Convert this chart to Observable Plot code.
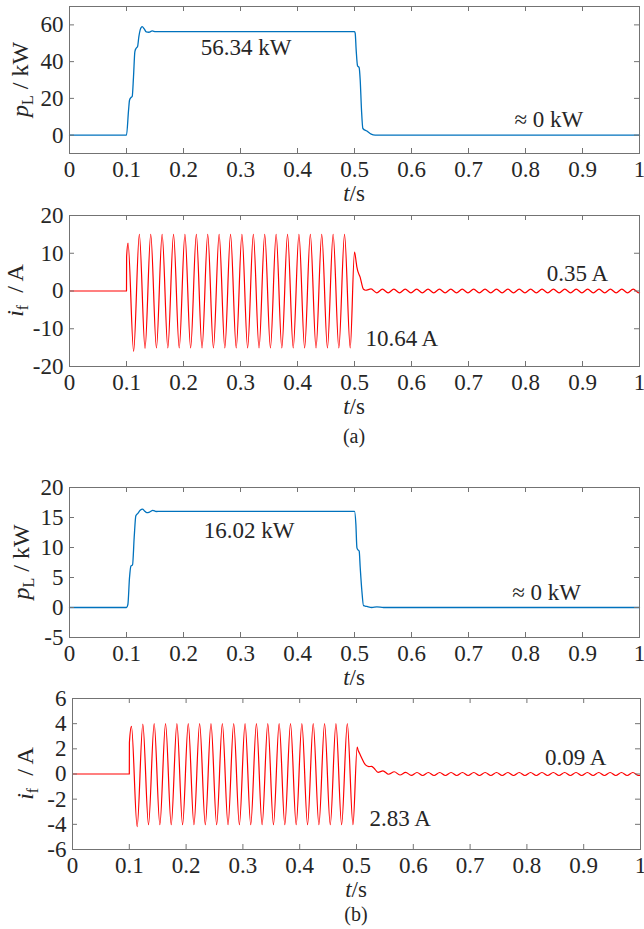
<!DOCTYPE html>
<html><head><meta charset="utf-8">
<script src="https://cdn.jsdelivr.net/npm/d3@7"></script>
<script src="https://cdn.jsdelivr.net/npm/@observablehq/plot@0.6"></script>
<style>
body{margin:0;background:#fff;}
#chart{position:relative;width:644px;height:929px;font-family:"Liberation Serif","Times New Roman",serif;}
#chart svg{position:absolute;left:0;overflow:visible;background:none;}
</style></head><body><div id="chart"></div>
<script>
// ---------- shared tick labels ----------
const xTicks = [0, 0.1, 0.2, 0.3, 0.4, 0.5, 0.6, 0.7, 0.8, 0.9, 1];
const yTicksPA = [0, 20, 40, 60];
const yTicksIA = [-20, -10, 0, 10, 20];
const yTicksPB = [-5, 0, 5, 10, 15, 20];
const yTicksIB = [-6, -4, -2, 0, 2, 4, 6];

// ---------- (a) load power p_L (kW) ----------
const pA_t = [0, 0.1, 0.1036, 0.1053, 0.1077, 0.11, 0.1123, 0.1147, 0.117, 0.1194, 0.1217, 0.124, 0.1275, 0.1311, 0.1346, 0.1392, 0.1451, 0.1509,
  0.5, 0.5012, 0.503, 0.5053, 0.5082, 0.51, 0.5123, 0.5147, 0.5217, 0.5293, 0.5363, 1.0];
const pA_v = [0, 0, 13.6, 19, 20.4, 21, 31.8, 45.5, 47.3, 48.2, 53.6, 57.3, 59.1, 57.8, 56.2, 56, 56.7, 56.34,
  56.34, 55.5, 46, 37.8, 36.7, 30, 13.6, 3.6, 2.2, 0.5, 0, 0];

// ---------- (a) fault current i_f (A) ----------
const iA_t = [0, 0.1, 0.1002,
  0.1027, 0.1125, 0.1225, 0.1325, 0.1425, 0.1525, 0.1625, 0.1725, 0.1825, 0.1925,
  0.2025, 0.2125, 0.2225, 0.2325, 0.2425, 0.2525, 0.2625, 0.2725, 0.2825, 0.2925,
  0.3025, 0.3125, 0.3225, 0.3325, 0.3425, 0.3525, 0.3625, 0.3725, 0.3825, 0.3925,
  0.4025, 0.4125, 0.4225, 0.4325, 0.4425, 0.4525, 0.4625, 0.4725, 0.4825, 0.4925,
  0.5, 0.503, 0.5042, 0.51, 0.5158, 0.5195,
  0.529, 0.539, 0.549, 0.559, 0.569, 0.579, 0.589, 0.599,
  0.609, 0.619, 0.629, 0.639, 0.649, 0.659, 0.669, 0.679, 0.689, 0.699,
  0.709, 0.719, 0.729, 0.739, 0.749, 0.759, 0.769, 0.779, 0.789, 0.799,
  0.809, 0.819, 0.829, 0.839, 0.849, 0.859, 0.869, 0.879, 0.889, 0.899,
  0.909, 0.919, 0.929, 0.939, 0.949, 0.959, 0.969, 0.979, 0.989, 0.999,
  1.0];
const iA_v = [0, 0, 9,
  12.7, -16.0, 15.0, -15.2, 15.0, -15.1, 15.0, -15.1, 15.0, -15.1,
  15.0, -15.1, 15.0, -15.1, 15.0, -15.1, 15.0, -15.1, 15.0, -15.1,
  15.0, -15.1, 15.0, -15.1, 15.0, -15.1, 15.0, -15.1, 15.0, -15.1,
  15.0, -15.1, 15.0, -15.1, 15.0, -15.1, 15.0, -15.1, 15.0, -15.1,
  10.3, 7.6, 6.3, 3.6, 0.45, 0.2,
  0.55, -0.5, 0.5, -0.5, 0.5, -0.5, 0.5, -0.5,
  0.5, -0.5, 0.5, -0.5, 0.5, -0.5, 0.5, -0.5, 0.5, -0.5,
  0.5, -0.5, 0.5, -0.5, 0.5, -0.5, 0.5, -0.5, 0.5, -0.5,
  0.5, -0.5, 0.5, -0.5, 0.5, -0.5, 0.5, -0.5, 0.5, -0.5,
  0.5, -0.5, 0.5, -0.5, 0.5, -0.5, 0.5, -0.5, 0.5, -0.5,
  -0.45];

// ---------- (b) load power p_L (kW) ----------
const pB_t = [0, 0.1, 0.1024, 0.1053, 0.1077, 0.1106, 0.1135, 0.1164, 0.12, 0.124, 0.1281, 0.1316, 0.1357, 0.1404, 0.1462, 0.1521, 0.1591,
  0.5, 0.5024, 0.5042, 0.5053, 0.5082, 0.51, 0.5129, 0.5158, 0.5217, 0.5305, 0.5392, 0.551, 1.0];
const pB_v = [0, 0, 0.5, 5, 6.9, 7.1, 11.7, 15.3, 15.7, 16.2, 16.4, 16.1, 15.8, 15.9, 16.2, 16.0, 16.02,
  16.02, 13.9, 10, 9.7, 9.4, 6.7, 2.8, 0.3, 0.17, 0, 0.1, 0, 0];

// ---------- (b) fault current i_f (A) ----------
const iB_t = [0, 0.1, 0.1002,
  0.1038, 0.1138, 0.1238, 0.1338, 0.1438, 0.1538, 0.1638, 0.1738, 0.1838, 0.1938,
  0.2038, 0.2138, 0.2238, 0.2338, 0.2438, 0.2538, 0.2638, 0.2738, 0.2838, 0.2938,
  0.3038, 0.3138, 0.3238, 0.3338, 0.3438, 0.3538, 0.3638, 0.3738, 0.3838, 0.3938,
  0.4038, 0.4138, 0.4238, 0.4338, 0.4438, 0.4538, 0.4638, 0.4738, 0.4838, 0.4938,
  0.5012, 0.503, 0.5053, 0.51, 0.5158, 0.5217, 0.5264, 0.5305, 0.538,
  0.5465, 0.5565, 0.5665, 0.5765, 0.5865, 0.5965,
  0.6065, 0.6165, 0.6265, 0.6365, 0.6465, 0.6565, 0.6665, 0.6765, 0.6865, 0.6965,
  0.7065, 0.7165, 0.7265, 0.7365, 0.7465, 0.7565, 0.7665, 0.7765, 0.7865, 0.7965,
  0.8065, 0.8165, 0.8265, 0.8365, 0.8465, 0.8565, 0.8665, 0.8765, 0.8865, 0.8965,
  0.9065, 0.9165, 0.9265, 0.9365, 0.9465, 0.9565, 0.9665, 0.9765, 0.9865, 0.9965,
  1.0];
const iB_v = [0, 0, 2.5,
  3.79, -4.19, 3.97, -4.03, 4.0, -4.03, 4.0, -4.03, 4.0, -4.03,
  4.0, -4.03, 4.0, -4.03, 4.0, -4.03, 4.0, -4.03, 4.0, -4.03,
  4.0, -4.03, 4.0, -4.03, 4.0, -4.03, 4.0, -4.03, 4.0, -4.03,
  4.0, -4.03, 4.0, -4.03, 4.0, -4.03, 4.0, -4.03, 4.0, -4.03,
  2.13, 1.87, 1.65, 1.2, 0.72, 0.59, 0.6, 0.48, 0.13,
  0.25, -0.02, 0.18, -0.08, 0.13, -0.11,
  0.12, -0.12, 0.12, -0.12, 0.12, -0.12, 0.12, -0.12, 0.12, -0.12,
  0.12, -0.12, 0.12, -0.12, 0.12, -0.12, 0.12, -0.12, 0.12, -0.12,
  0.12, -0.12, 0.12, -0.12, 0.12, -0.12, 0.12, -0.12, 0.12, -0.12,
  0.12, -0.12, 0.12, -0.12, 0.12, -0.12, 0.12, -0.12, 0.12, -0.12,
  -0.1];

// ---------- annotation texts ----------
const notesPA = [{t: 0.31, v: 47.5, label: "56.34 kW"}, {t: 0.841, v: 8.2, label: "≈ 0 kW"}];
const notesIA = [{t: 0.891, v: 4.6, label: "0.35 A"}, {t: 0.583, v: -12.6, label: "10.64 A"}];
const notesPB = [{t: 0.315, v: 12.8, label: "16.02 kW"}, {t: 0.837, v: 2.5, label: "≈ 0 kW"}];
const notesIB = [{t: 0.886, v: 1.3, label: "0.09 A"}, {t: 0.577, v: -3.58, label: "2.83 A"}];

const BLUE = "#0072BD", RED = "#FF0000", AXIS = "#737373", TEXT = "#262626";
const chart = document.getElementById("chart");

function panel(o) {
  const rows = o.t.map((t, i) => ({t, v: o.v[i]}));
  const W = 644;
  const H = o.mT + o.fh + o.mB;
  const fw = W - o.mL - o.mR;
  const tk = 5;
  const plot = Plot.plot({
    width: W, height: H,
    marginLeft: o.mL, marginRight: o.mR, marginTop: o.mT, marginBottom: o.mB,
    style: {fontFamily: "'Liberation Serif', 'Times New Roman', serif", fontSize: "23px", color: TEXT, background: "none", overflow: "visible"},
    x: {domain: [0, 1], ticks: xTicks, tickFormat: d => String(d), tickSize: 0, tickPadding: 7, label: null},
    y: {domain: o.yDomain, ticks: o.yTicks, tickFormat: d => String(d), tickSize: 0, tickPadding: 6, label: null},
    marks: [
      Plot.line(rows, {x: "t", y: "v", stroke: o.color, strokeWidth: o.sw, curve: "monotone-x"}),
      Plot.tickX(xTicks, {x: d => d, stroke: AXIS, insetTop: o.fh - tk}),
      Plot.tickX(xTicks, {x: d => d, stroke: AXIS, insetBottom: o.fh - tk}),
      Plot.tickY(o.yTicks, {y: d => d, stroke: AXIS, insetRight: fw - tk}),
      Plot.tickY(o.yTicks, {y: d => d, stroke: AXIS, insetLeft: fw - tk}),
      Plot.frame({stroke: AXIS}),
      Plot.text(o.notes, {x: "t", y: "v", text: "label", fontSize: 23, fill: TEXT})
    ]
  });
  plot.style.top = o.top + "px";
  const svg = d3.select(plot);
  // x label  t/s
  const xl = svg.append("text").attr("x", o.mL + fw / 2).attr("y", o.mT + o.fh + 48)
    .attr("text-anchor", "middle").attr("font-size", 23).attr("fill", TEXT);
  xl.append("tspan").attr("font-style", "italic").text("t");
  xl.append("tspan").text("/s");
  // y label
  const yl = svg.append("text")
    .attr("transform", `translate(${o.ylabX},${o.mT + o.fh / 2}) rotate(-90)`)
    .attr("text-anchor", "middle").attr("font-size", 24).attr("fill", TEXT);
  yl.append("tspan").attr("font-style", "italic").text(o.ysym);
  yl.append("tspan").attr("font-size", 16).attr("dy", 5).text(o.ysub);
  yl.append("tspan").attr("dy", -5).text(o.yunit);
  if (o.caption) {
    svg.append("text").attr("x", o.mL + fw / 2).attr("y", o.capY)
      .attr("text-anchor", "middle").attr("font-size", 20).attr("fill", TEXT).text(o.caption);
  }
  chart.appendChild(plot);
}

panel({top: 0, mL: 69, mR: 5, mT: 6, fh: 147, mB: 60, t: pA_t, v: pA_v, color: BLUE, sw: 1.3,
  yDomain: [-10, 70], yTicks: yTicksPA, notes: notesPA, ylabX: 28, ysym: "p", ysub: "L", yunit: " / kW"});
panel({top: 200, mL: 69, mR: 5, mT: 15, fh: 151, mB: 80, t: iA_t, v: iA_v, color: RED, sw: 1.2,
  yDomain: [-20, 20], yTicks: yTicksIA, notes: notesIA, ylabX: 23, ysym: "i", ysub: "f", yunit: "  / A",
  caption: "(a)", capY: 243});
panel({top: 470, mL: 69, mR: 5, mT: 17, fh: 150, mB: 60, t: pB_t, v: pB_v, color: BLUE, sw: 1.3,
  yDomain: [-5, 20], yTicks: yTicksPB, notes: notesPB, ylabX: 29, ysym: "p", ysub: "L", yunit: " / kW"});
panel({top: 690, mL: 72, mR: 4, mT: 8, fh: 151, mB: 80, t: iB_t, v: iB_v, color: RED, sw: 1.2,
  yDomain: [-6, 6], yTicks: yTicksIB, notes: notesIB, ylabX: 33, ysym: "i", ysub: "f", yunit: "  / A",
  caption: "(b)", capY: 231});
</script></body></html>
